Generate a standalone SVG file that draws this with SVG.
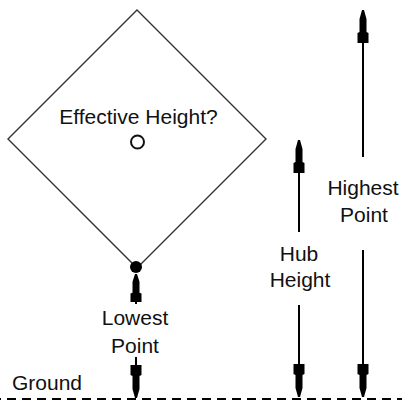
<svg xmlns="http://www.w3.org/2000/svg" width="402" height="401" viewBox="0 0 402 401">
<style>
.lbl{font-family:"Liberation Sans",Arial,sans-serif;font-size:21px;fill:#111;text-anchor:middle}
.shaft{stroke:#000;stroke-width:2;fill:none}
.head{fill:#000}
</style>
<defs>
<path id="ah" d="M-1,0 L1,0 L3.5,9 L3.5,22 L5.5,23 L5.5,33 L-5.5,33 L-5.5,23 L-3.5,22 L-3.5,9 Z"/>
</defs>
<rect width="402" height="401" fill="#fff"/>
<g id="rotor">
<polygon points="137,10 266,139 137,268 8,139" fill="none" stroke="#333" stroke-width="1.4"/>
<text class="lbl" x="138.5" y="124">Effective Height?</text>
<circle cx="137.5" cy="142" r="6.5" fill="none" stroke="#111" stroke-width="2"/>
<circle cx="136" cy="267" r="6" fill="#000"/>
</g>
<g id="ground">
<line x1="0" y1="399" x2="402" y2="399" stroke="#000" stroke-width="2" stroke-dasharray="9,6" stroke-dashoffset="-7"/>
<text class="lbl" x="12" y="390" style="text-anchor:start">Ground</text>
</g>
<g id="lowest">
<text class="lbl" x="135" y="325">Lowest</text>
<text class="lbl" x="135" y="353">Point</text>
</g>
<g id="hub">
<text class="lbl" x="299" y="261">Hub</text>
<text class="lbl" x="300" y="287">Height</text>
</g>
<g id="highest">
<text class="lbl" x="363" y="195">Highest</text>
<text class="lbl" x="364" y="222">Point</text>
</g>
<g id="connectors">
<line class="shaft" x1="136" y1="274" x2="136" y2="304"/>
<use href="#ah" class="head" transform="translate(136,274) scale(1,0.85)"/>
<line class="shaft" x1="136" y1="357" x2="136" y2="398"/>
<use href="#ah" class="head" transform="translate(136,398) rotate(180)"/>
<line class="shaft" x1="299" y1="140" x2="299" y2="232"/>
<use href="#ah" class="head" transform="translate(299,140)"/>
<line class="shaft" x1="299" y1="305" x2="299" y2="397"/>
<use href="#ah" class="head" transform="translate(299,397) rotate(180)"/>
<line class="shaft" x1="363" y1="10" x2="363" y2="157"/>
<use href="#ah" class="head" transform="translate(363,10)"/>
<line class="shaft" x1="363" y1="250" x2="363" y2="397"/>
<use href="#ah" class="head" transform="translate(363,397) rotate(180)"/>
</g>
</svg>
